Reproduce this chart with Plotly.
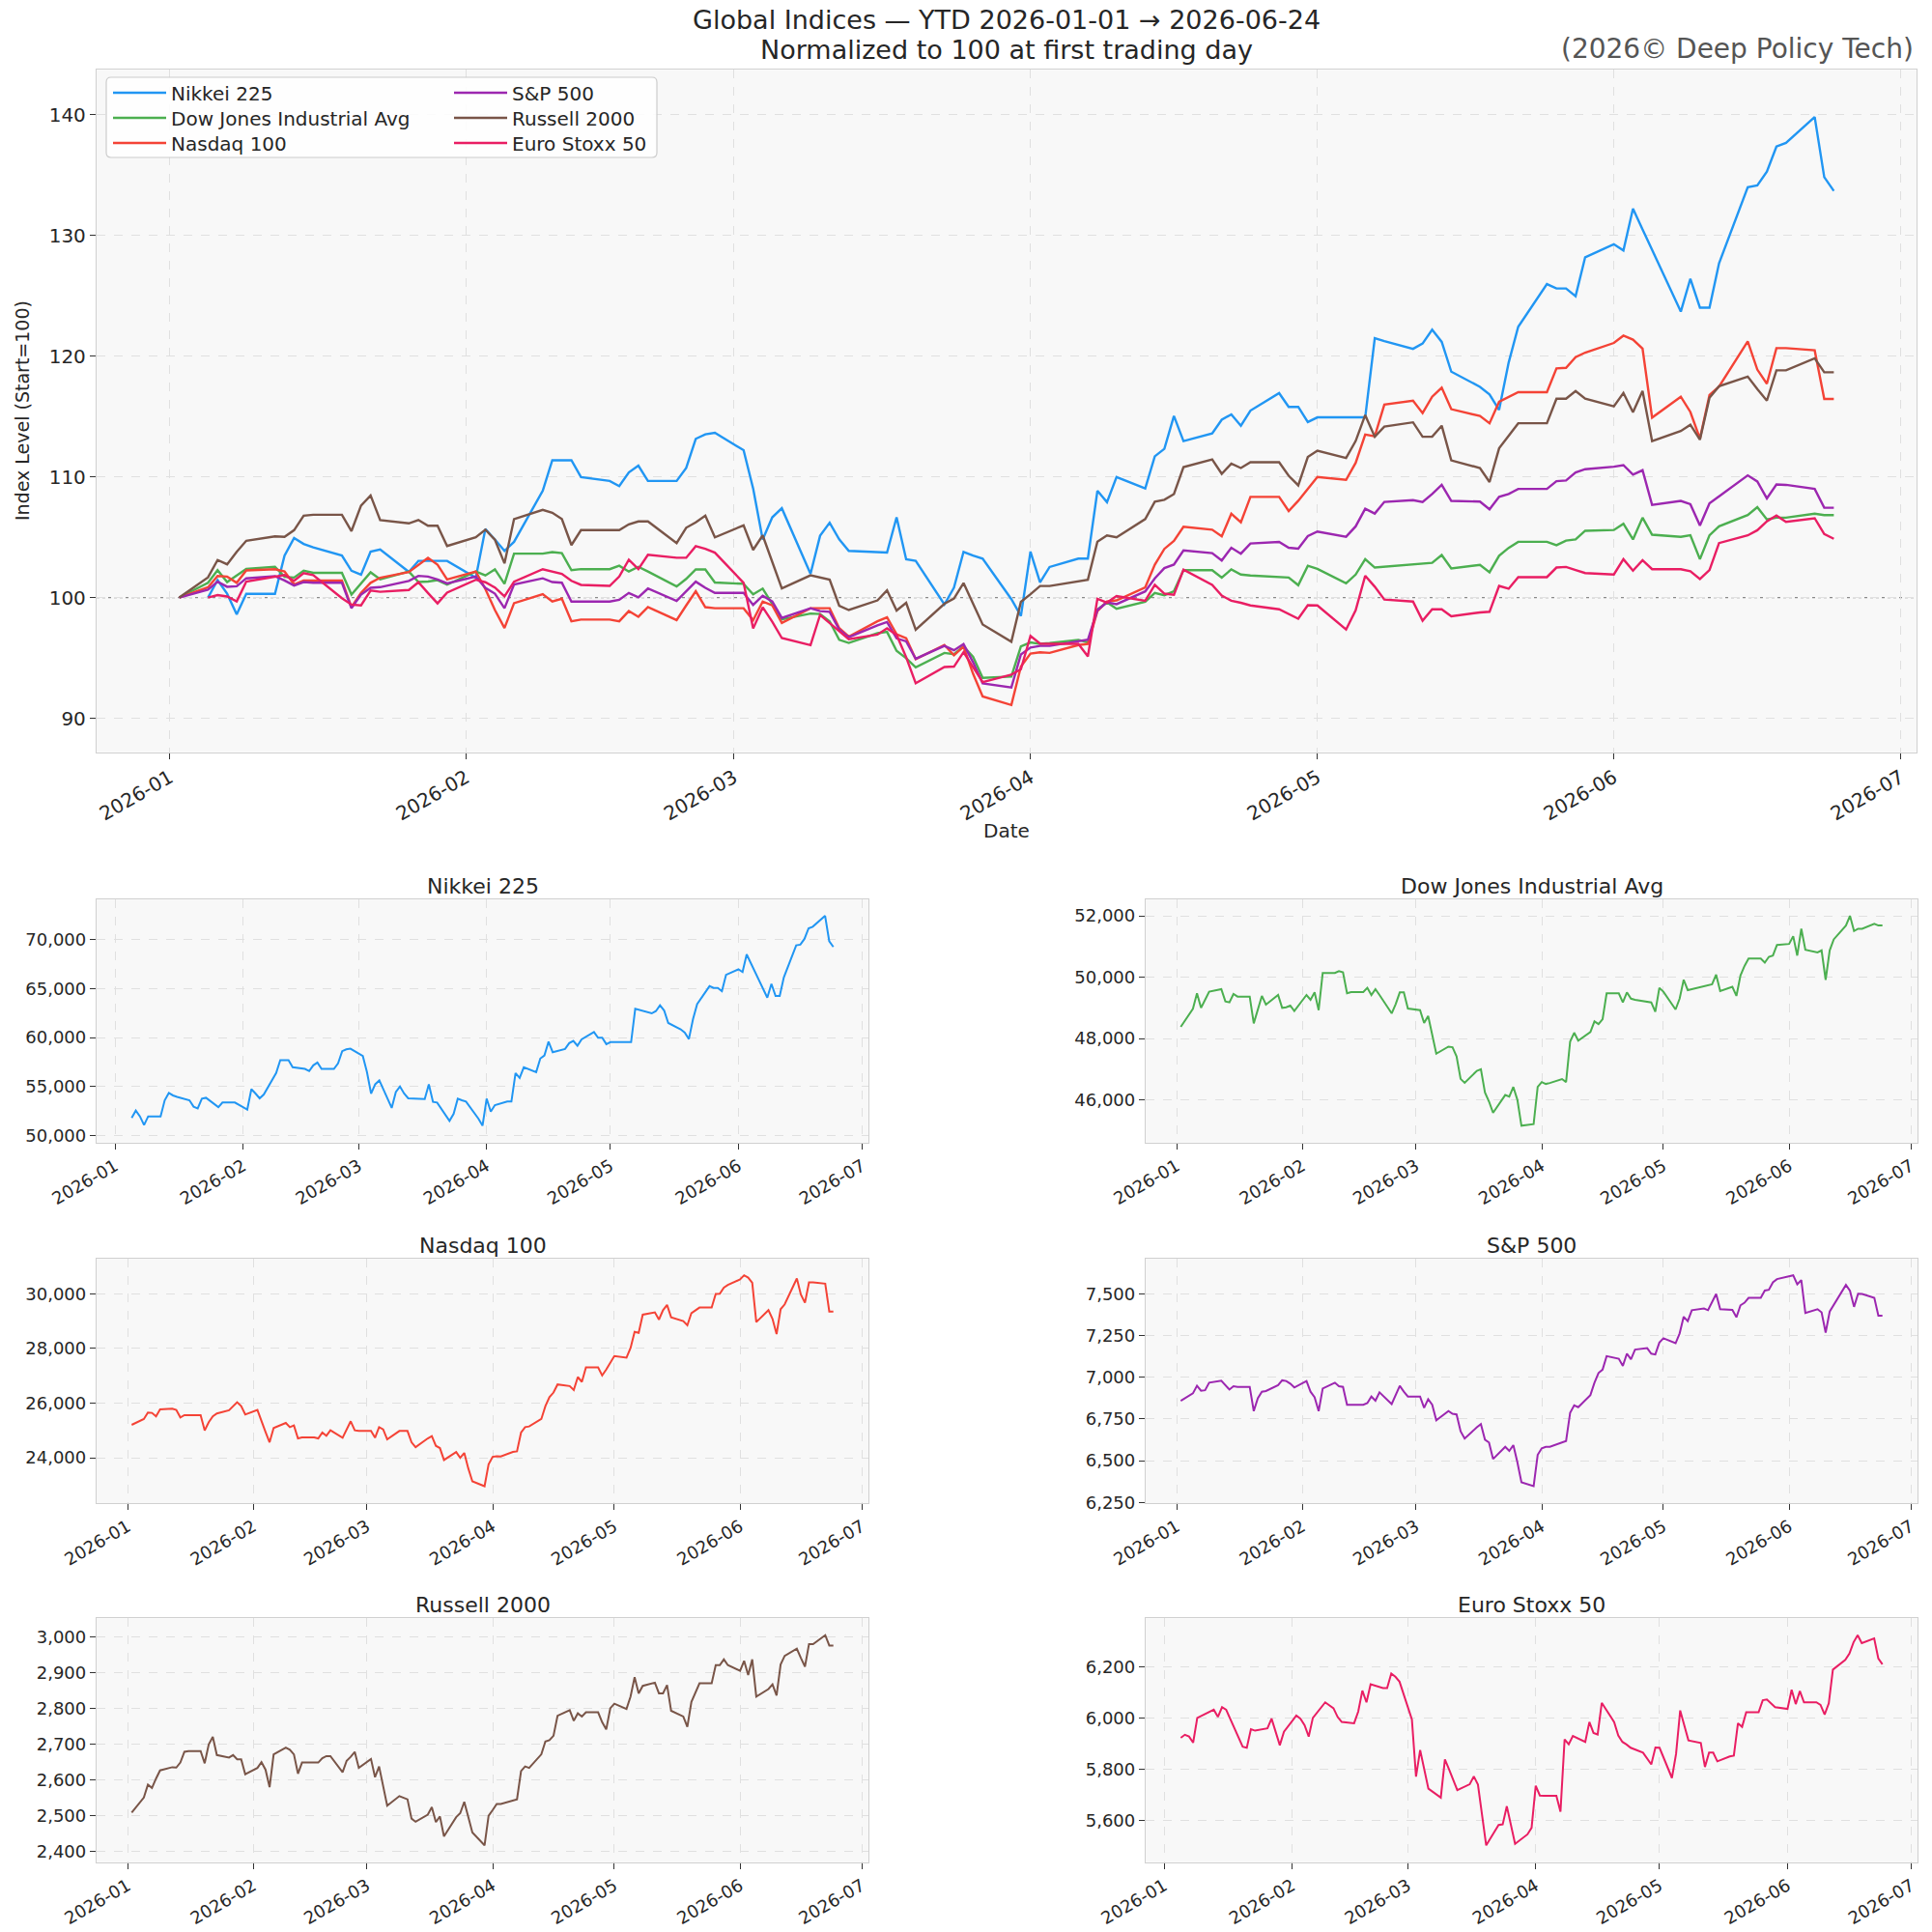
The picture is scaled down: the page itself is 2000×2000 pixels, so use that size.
import pandas as pd
import plotly.graph_objects as go

W, H = 2000, 2000

# ---------------- data ----------------
US_DATES = pd.bdate_range("2026-01-02", "2026-06-24")      # 124 sessions
JP_EU_DATES = pd.bdate_range("2026-01-05", "2026-06-24")   # 123 sessions

NAMES = ["Nikkei 225", "Dow Jones Industrial Avg", "Nasdaq 100",
         "S&P 500", "Russell 2000", "Euro Stoxx 50"]
COLORS = ["#2196F3", "#4CAF50", "#F44336", "#9C27B0", "#795548", "#E91E63"]

NIKKEI = [
    51800, 52550, 51960, 51080, 51960, 51960, 53600, 54350, 54100, 53950,
    53600, 52950, 52780, 53770, 53860, 52900, 53370, 53370, 53370, 53370,
    52650, 54740, 54290, 53800, 54190, 56380, 57690, 57690, 57690, 56970,
    56800, 56580, 57170, 57460, 56800, 56800, 57360, 58610, 58800, 58870,
    58120, 56480, 54290, 55240, 55630, 52820, 54450, 55010, 54300, 53800,
    53750, 53730, 55240, 53440, 53370, 51500, 52220, 53760, 53600, 53470,
    51730, 51010,
    53770, 52450, 53110, 53470, 53470, 56380, 55890, 56970, 56480, 57860,
    58180, 59590, 58510, 58840, 59430, 59660, 59170, 59820, 60570, 59980,
    59980, 59330,
    59530, 59530, 59530, 59530, 62930, 62800, 62470, 62700, 63290, 62770,
    61490, 60840, 60510, 59850, 61880, 63420, 65250, 65060, 65060, 64730,
    66400,
    66960, 66690, 68490, 67600, 66720, 64070, 65480, 64240, 64240, 66140,
    69410, 69480, 70070, 71150, 71310, 72420, 69840, 69250,
]

DOW = [
    48379, 48968, 49474, 49000, 49263, 49526, 49611, 49210, 49179, 49453,
    49368, 49368, 48495, 48947, 49390, 49105, 49420, 49000, 49021, 49074,
    48895,
    49420, 49263, 49505, 48926, 50137, 50137, 50200, 50158, 49474, 49516,
    49516, 49653, 49420, 49611, 49420, 48820, 49126, 49505, 49505, 48979,
    48926, 48505, 48737, 48105, 47505, 47737, 47716, 47421, 46684, 46558,
    46947, 47000, 46242, 45947, 45579, 46158, 46105, 46421, 46000, 45158,
    45210, 46421,
    46580, 46520, 46550, 46680, 46580, 47900, 48190, 47930, 48210, 48560,
    48470, 48630, 49474, 49474, 49179, 49505, 49300, 49263, 49200, 49179,
    48874, 49653,
    49526, 48947, 49300, 49916, 49579, 49610, 49684, 49716, 49770, 50084,
    49547, 49684, 49390, 50053, 50368, 50610, 50610, 50474, 50663, 50705,
    51053,
    51084, 51337, 50705, 51579, 50895, 50810, 50874, 49916, 50874, 51232,
    51684, 52000, 51505, 51579, 51579, 51737, 51684, 51684,
]

NASDAQ = [
    25205, 25418, 25654, 25642, 25512, 25772, 25796, 25748, 25477, 25560,
    25560, 25560, 25004, 25300, 25512, 25619, 25737, 25890, 26032, 25890,
    25583,
    25748, 25382, 24945, 24567, 25087, 25276, 25122, 25181, 24709, 24745,
    24745, 24709, 24922, 24804, 25004, 24733, 25040, 25335, 25004, 24981,
    24981, 24733, 25122, 25040, 24674, 24981, 24981, 24981, 24567, 24390,
    24709, 24792, 24437, 24355, 23918, 24213, 24000, 24178, 23611, 23139,
    22961, 23764,
    24036, 24060, 24048, 24213, 24237, 24922, 25122, 25146, 25418, 25890,
    26221, 26386, 26681, 26622, 26481, 26953, 26776, 27307, 27307, 27012,
    27225, 27485,
    27721, 27662, 28016, 28606, 28571, 29232, 29315, 29055, 29398, 29587,
    29138, 28996, 28843, 29291, 29398, 29492, 29492, 29988, 30000, 30224,
    30319,
    30520, 30673, 30590, 30401, 28961, 29398, 29079, 28524, 29433, 29610,
    30555, 29965, 29669, 30413, 30413, 30366, 29350, 29350,
]

SP500 = [
    6858, 6903, 6948, 6919, 6922, 6967, 6979, 6955, 6926, 6946,
    6942, 6942, 6797, 6874, 6913, 6917, 6952, 6981, 6977, 6961,
    6938,
    6977, 6913, 6880, 6797, 6932, 6967, 6946, 6942, 6835, 6835,
    6835, 6845, 6884, 6859, 6909, 6839, 6893, 6948, 6913, 6884,
    6884, 6816, 6868, 6835, 6742, 6797, 6781, 6777, 6676, 6632,
    6700, 6719, 6626, 6609, 6510, 6583, 6558, 6593, 6490, 6370,
    6347, 6535,
    6574, 6583, 6583, 6612, 6618, 6787, 6831, 6820, 6893, 6967,
    7025, 7045, 7126, 7110, 7068, 7141, 7107, 7165, 7174, 7141,
    7136, 7207,
    7233, 7203, 7262, 7362, 7335, 7401, 7411, 7401, 7446, 7498,
    7407, 7403, 7359, 7430, 7446, 7475, 7475, 7519, 7523, 7568,
    7587,
    7601, 7610, 7556, 7581, 7384, 7407, 7388, 7267, 7393, 7432,
    7552, 7517, 7421, 7500, 7498, 7475, 7368, 7368,
]

RUSSELL = [
    2508, 2550, 2586, 2577, 2603, 2626, 2635, 2634, 2648, 2678,
    2680, 2680, 2646, 2699, 2720, 2669, 2662, 2669, 2657, 2657,
    2615,
    2633, 2649, 2628, 2579, 2671, 2690, 2684, 2671, 2617, 2648,
    2648, 2648, 2660, 2666, 2666, 2621, 2653, 2664, 2678, 2633,
    2658, 2607, 2637, 2583, 2527, 2554, 2550, 2545, 2491, 2482,
    2502, 2523, 2481, 2497, 2441, 2495, 2506, 2538, 2495, 2452,
    2416, 2499,
    2515, 2532, 2532, 2542, 2545, 2624, 2637, 2633, 2671, 2707,
    2711, 2723, 2779, 2795, 2765, 2786, 2777, 2789, 2789, 2761,
    2741, 2800,
    2813, 2798, 2833, 2887, 2842, 2863, 2872, 2842, 2842, 2865,
    2793, 2777, 2748, 2818, 2845, 2870, 2870, 2921, 2921, 2937,
    2921,
    2905, 2933, 2893, 2937, 2833, 2854, 2867, 2836, 2923, 2947,
    2967, 2941, 2917, 2980, 2980, 3005, 2976, 2976,
]

EUROSTOXX = [
    5923, 5935, 5928, 5904, 6001, 6023, 6033, 6005, 6043, 6033,
    5920, 5888, 5884, 5957, 5951, 5960, 5998, 5945, 5894, 5947,
    6010, 5998, 5972, 5928, 6001, 6062, 6052, 6039, 6005, 5985,
    5980, 6026, 6108, 6062, 6133, 6118, 6118, 6175, 6162, 6143,
    5995, 5771, 5875, 5804, 5724, 5689, 5838, 5800, 5758, 5718,
    5741, 5772, 5740, 5630, 5502, 5582, 5584, 5655, 5582, 5508,
    5545, 5571,
    5735, 5697, 5696, 5696, 5634, 5917, 5898, 5930, 5907, 5985,
    5942, 5936, 6060, 5985, 5932, 5907, 5897, 5884, 5865, 5841,
    5819, 5885,
    5884, 5766, 5860, 6030, 5976, 5913, 5903, 5809, 5865, 5865,
    5831, 5850, 5853, 5980, 5966, 6023, 6023, 6070, 6073, 6058,
    6043,
    6036, 6111, 6055, 6106, 6062, 6062, 6052, 6014, 6058, 6190,
    6228, 6253, 6297, 6325, 6294, 6312, 6234, 6211,
]

SERIES = [NIKKEI, DOW, NASDAQ, SP500, RUSSELL, EUROSTOXX]
DATES = [JP_EU_DATES, US_DATES, US_DATES, US_DATES, US_DATES, JP_EU_DATES]
Y_DTICK = [5000, 2000, 2000, 250, 100, 200]
for s, d in zip(SERIES, DATES):
    assert len(s) == len(d), (len(s), len(d))

FONT = "DejaVu Sans"
TXT = "#262626"

# ---------------- helpers ----------------
def px_x(p):
    return p / W

def px_y(p):
    return 1 - p / H

def x_range(dates):
    d0, d1 = dates[0], dates[-1]
    pad = (d1 - d0) * 0.05
    f = "%Y-%m-%d %H:%M:%S"
    return [(d0 - pad).strftime(f), (d1 + pad).strftime(f)]

def y_range(vals):
    lo, hi = min(vals), max(vals)
    pad = (hi - lo) * 0.08
    return [lo - pad, hi + pad]

AX = dict(showline=True, linecolor="#d0d0d0", linewidth=1.3, mirror=True,
          ticks="outside", ticklen=6, tickwidth=1.3, tickcolor="#333333",
          showgrid=True, gridcolor="#e0e0e0", griddash="dash", gridwidth=1,
          zeroline=False, automargin=False)

fig = go.Figure()

# ---------------- main normalized panel ----------------
norm = [[v / s[0] * 100 for v in s] for s in SERIES]
all_norm = [v for s in norm for v in s]

LEG_POS = [(112, 96), (112, 122), (112, 148), (465, 96), (465, 122), (465, 148)]
for i, (name, col, d, n) in enumerate(zip(NAMES, COLORS, DATES, norm)):
    lg = "legend" if i == 0 else f"legend{i+1}"
    fig.add_trace(go.Scatter(x=d, y=n, mode="lines", name=name,
                             line=dict(color=col, width=2.4),
                             xaxis="x", yaxis="y", legend=lg,
                             hoverinfo="skip"))

layout = dict(
    width=W, height=H, margin=dict(l=0, r=0, t=0, b=0, autoexpand=False),
    paper_bgcolor="white", plot_bgcolor="#f8f8f8",
    font=dict(family=FONT, color=TXT),
    showlegend=True,
)

main_x = [100, 1984]
main_y = [72.4, 778.5]
layout["xaxis"] = dict(AX, domain=[px_x(main_x[0]), px_x(main_x[1])], anchor="y",
                       type="date", range=x_range(US_DATES), tickformat="%Y-%m",
                       dtick="M1", tick0="2026-01-01", tickangle=-30,
                       tickfont=dict(family=FONT, size=20, color=TXT))
layout["yaxis"] = dict(AX, domain=[px_y(main_y[1]), px_y(main_y[0])], anchor="x",
                       range=y_range(all_norm), dtick=10, tick0=0,
                       tickfont=dict(family=FONT, size=20, color=TXT))

# legends (two columns)
for i, (lx, ly) in enumerate(LEG_POS):
    key = "legend" if i == 0 else f"legend{i+1}"
    layout[key] = dict(x=px_x(lx), y=px_y(ly), xanchor="left", yanchor="middle",
                       bgcolor="rgba(0,0,0,0)", borderwidth=0, itemwidth=55,
                       font=dict(family=FONT, size=20, color=TXT))

# ---------------- small multiples ----------------
COLS = [[100, 899], [1186, 1985]]
ROWS = [[930.7, 1182.7], [1302.7, 1556.0], [1675.3, 1927.7]]

annotations = []
for i, (name, col, d, s, dt) in enumerate(zip(NAMES, COLORS, DATES, SERIES, Y_DTICK)):
    r, c = divmod(i, 2)
    xa, ya = f"x{i+2}", f"y{i+2}"
    fig.add_trace(go.Scatter(x=d, y=s, mode="lines", name=name, showlegend=False,
                             line=dict(color=col, width=2.0),
                             xaxis=xa, yaxis=ya, hoverinfo="skip"))
    layout[f"xaxis{i+2}"] = dict(AX, domain=[px_x(COLS[c][0]), px_x(COLS[c][1])],
                                 anchor=ya, type="date", range=x_range(d),
                                 tickformat="%Y-%m", dtick="M1", tick0="2026-01-01",
                                 tickangle=-30,
                                 tickfont=dict(family=FONT, size=18, color=TXT))
    layout[f"yaxis{i+2}"] = dict(AX, domain=[px_y(ROWS[r][1]), px_y(ROWS[r][0])],
                                 anchor=xa, range=y_range(s), dtick=dt, tick0=0,
                                 tickformat=",d",
                                 tickfont=dict(family=FONT, size=18, color=TXT))
    annotations.append(dict(text=name, xref="paper", yref="paper",
                            x=px_x((COLS[c][0] + COLS[c][1]) / 2),
                            y=px_y(ROWS[r][0] - 13.5), xanchor="center",
                            yanchor="middle", showarrow=False,
                            font=dict(family=FONT, size=22, color=TXT)))

# ---------------- texts ----------------
annotations += [
    dict(text="Global Indices — YTD 2026-01-01 → 2026-06-24", xref="paper", yref="paper",
         x=px_x(1042), y=px_y(20), xanchor="center", yanchor="middle", showarrow=False,
         font=dict(family=FONT, size=27, color=TXT)),
    dict(text="Normalized to 100 at first trading day", xref="paper", yref="paper",
         x=px_x(1042), y=px_y(51.5), xanchor="center", yanchor="middle", showarrow=False,
         font=dict(family=FONT, size=27, color=TXT)),
    dict(text="(2026© Deep Policy Tech)", xref="paper", yref="paper",
         x=px_x(1983), y=px_y(50.5), xanchor="right", yanchor="middle", showarrow=False,
         font=dict(family=FONT, size=28, color="#555555")),
    dict(text="Date", xref="paper", yref="paper",
         x=px_x(1042), y=px_y(860), xanchor="center", yanchor="middle", showarrow=False,
         font=dict(family=FONT, size=20, color=TXT)),
    dict(text="Index Level (Start=100)", xref="paper", yref="paper", textangle=-90,
         x=px_x(23), y=px_y(425), xanchor="center", yanchor="middle", showarrow=False,
         font=dict(family=FONT, size=19, color=TXT)),
]
layout["annotations"] = annotations

# ---------------- shapes ----------------
def rounded_rect(x0, y0, x1, y1, r):
    X = lambda v: px_x(v)
    Y = lambda v: px_y(v)
    return (f"M{X(x0+r)},{Y(y0)} L{X(x1-r)},{Y(y0)} Q{X(x1)},{Y(y0)} {X(x1)},{Y(y0+r)} "
            f"L{X(x1)},{Y(y1-r)} Q{X(x1)},{Y(y1)} {X(x1-r)},{Y(y1)} "
            f"L{X(x0+r)},{Y(y1)} Q{X(x0)},{Y(y1)} {X(x0)},{Y(y1-r)} "
            f"L{X(x0)},{Y(y0+r)} Q{X(x0)},{Y(y0)} {X(x0+r)},{Y(y0)} Z")

layout["shapes"] = [
    dict(type="line", xref="x domain", yref="y", x0=0, x1=1, y0=100, y1=100,
         line=dict(color="#8a8a8a", width=1.2, dash="dot"), layer="below"),
    dict(type="path", xref="paper", yref="paper", path=rounded_rect(110, 80, 680, 163, 5),
         fillcolor="rgba(255,255,255,0.85)", line=dict(color="#cccccc", width=1.2),
         layer="above"),
]

fig.update_layout(**layout)
fig.write_html("out.html")
